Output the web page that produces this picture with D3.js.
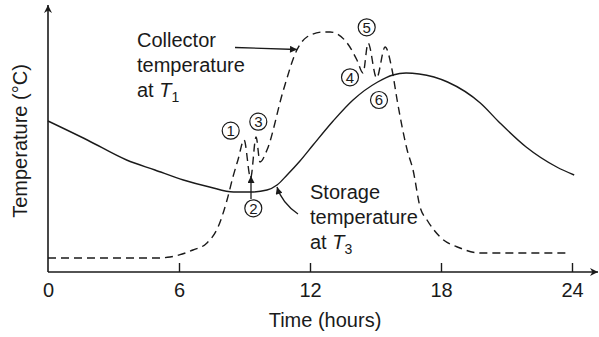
<!DOCTYPE html>
<html><head><meta charset="utf-8">
<script src="https://cdn.jsdelivr.net/npm/d3@7"></script>
<style>
html,body{margin:0;padding:0;background:#fff;}
svg{display:block;font-family:"Liberation Sans",Arial,Helvetica,sans-serif;}
</style></head>
<body><svg id="c" width="599" height="337"></svg>
<script>
// Time (hours) and relative temperature (arbitrary units, no y ticks)
const xTicks = [0, 6, 12, 18, 24];
const storageT = [0, 1.8, 3.6, 4.9, 6.2, 7.4, 8.5, 9.3, 10.03, 10.49, 10.95, 11.54, 12.14, 13.06, 13.97, 15.1, 15.8, 16.4, 17, 18.3, 19.8, 20.7, 21.9, 23.3, 24.1];
const storageV = [151, 132, 112, 102, 92, 85, 80, 80, 82, 87, 97, 111, 127, 151, 172, 190, 197, 199, 198, 190, 169, 149, 125, 105, 97];
const collectorT = [0, 4.99, 5.59, 6.64, 7.28, 7.79, 8.2, 8.47, 8.7, 8.98, 9.28, 9.53, 9.71, 10.03, 10.77, 11.4, 11.86, 12.6, 12.92, 13.7, 14.15, 14.43, 14.66, 15.05, 15.44, 15.76, 15.99, 16.45, 16.72, 17.04, 17.36, 17.96, 18.87, 19.79, 23.91];
const collectorV = [14, 14, 15, 22, 29, 45, 72, 95, 112, 132, 94, 135, 110, 122, 181, 222, 235, 240, 240, 229, 212, 199, 229, 194, 225, 202, 172, 122, 102, 65, 52, 35, 24, 19, 19];
const markers = ["1","2","3","4","5","6"];

const svg = d3.select("#c");
const x = d3.scaleLinear().domain([0, 24]).range([48, 572]);
const y = d3.scaleLinear().domain([0, 267]).range([272, 5]);
const ink = "#1a1a1a";

const defs = svg.append("defs");
defs.append("marker").attr("id","ah").attr("viewBox","0 0 10 10").attr("refX",10).attr("refY",5)
  .attr("markerWidth",9).attr("markerHeight",7).attr("markerUnits","userSpaceOnUse").attr("orient","auto")
  .append("path").attr("d","M0,0 L10,5 L0,10 Z").attr("fill",ink);
defs.append("marker").attr("id","ax").attr("viewBox","0 0 10 10").attr("refX",10).attr("refY",5)
  .attr("markerWidth",10).attr("markerHeight",8).attr("markerUnits","userSpaceOnUse").attr("orient","auto")
  .append("path").attr("d","M0,0 L10,5 L0,10 L3,5 Z").attr("fill",ink);

// axes lines with arrows
svg.append("line").attr("x1",48).attr("y1",272).attr("x2",598).attr("y2",272)
  .attr("stroke",ink).attr("stroke-width",1.6).attr("marker-end","url(#ax)");
svg.append("line").attr("x1",48).attr("y1",272).attr("x2",48).attr("y2",5)
  .attr("stroke",ink).attr("stroke-width",1.6).attr("marker-end","url(#ax)");

const xAxis = d3.axisBottom(x).tickValues(xTicks).tickFormat(d3.format("d")).tickSize(-9).tickPadding(0);
const gx = svg.append("g").attr("transform","translate(0,272)").call(xAxis);
gx.select(".domain").remove();
gx.selectAll(".tick line").attr("stroke",ink).attr("stroke-width",1.4)
  .filter(d => d === 0).remove();
gx.selectAll(".tick text").attr("dy",null).attr("y",25).attr("fill",ink)
  .attr("font-size",20).attr("font-family","Liberation Sans, Arial, sans-serif");

svg.append("text").attr("x",325).attr("y",327).attr("text-anchor","middle")
  .attr("font-size",20).attr("fill",ink).text("Time (hours)");
svg.append("text").attr("transform","translate(27,141) rotate(-90)").attr("text-anchor","middle")
  .attr("font-size",20).attr("fill",ink).text("Temperature (°C)");

const line = d3.line().x(d => x(d[0])).y(d => y(d[1])).curve(d3.curveMonotoneX);
svg.append("path").datum(storageT.map((t,i)=>[t,storageV[i]])).attr("d",line)
  .attr("fill","none").attr("stroke",ink).attr("stroke-width",1.4);
svg.append("path").datum(collectorT.map((t,i)=>[t,collectorV[i]])).attr("d",line)
  .attr("fill","none").attr("stroke",ink).attr("stroke-width",1.4).attr("stroke-dasharray","8,5");

// Text labels
function label(x0, y0, lines, sub){
  const t = svg.append("g");
  lines.forEach((s,i)=>{
    const tx = t.append("text").attr("x",x0).attr("y",y0+i*25).attr("font-size",20).attr("fill",ink);
    if(i===lines.length-1){
      tx.append("tspan").text("at ");
      tx.append("tspan").attr("font-style","italic").text("T");
      tx.append("tspan").attr("font-size",14).attr("dy",5).text(sub);
    } else tx.text(s);
  });
}
label(137, 47, ["Collector","temperature","at"], "1");
label(310, 199, ["Storage","temperature","at"], "3");

// arrows
svg.append("line").attr("x1",235).attr("y1",47.5).attr("x2",297).attr("y2",49.5)
  .attr("stroke",ink).attr("stroke-width",1.3).attr("marker-end","url(#ah)");
svg.append("line").attr("x1",251).attr("y1",199).attr("x2",251).attr("y2",176)
  .attr("stroke",ink).attr("stroke-width",1.3).attr("marker-end","url(#ah)");
svg.append("path").attr("d","M298,214 Q282,203 277,187").attr("fill","none")
  .attr("stroke",ink).attr("stroke-width",1.3).attr("marker-end","url(#ah)");

// circled numbers
const circPos = [[230.7,130.7],[253.3,208.3],[258.3,121.7],[350,77.3],[366.7,27.3],[379,100]];
markers.forEach((m,i)=>{
  const [cx,cy] = circPos[i];
  svg.append("circle").attr("cx",cx).attr("cy",cy).attr("r",8.5).attr("fill","#fff")
    .attr("stroke",ink).attr("stroke-width",1.2);
  svg.append("text").attr("x",cx).attr("y",cy+5.2).attr("text-anchor","middle")
    .attr("font-size",15).attr("fill",ink).text(m);
});
</script></body></html>
